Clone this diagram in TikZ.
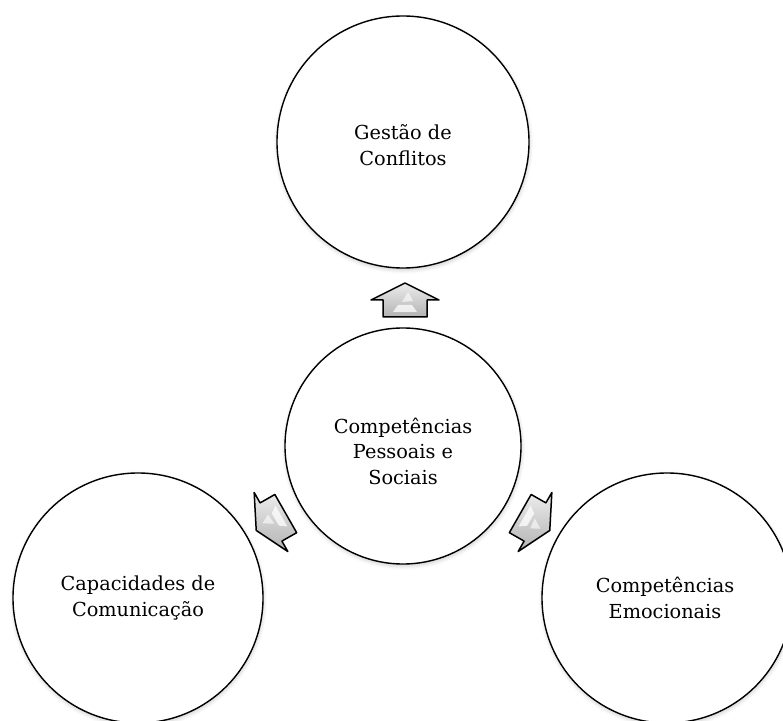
\documentclass[tikz,border=0pt]{standalone}
\usepackage{fontspec}
\setmainfont{DejaVu Serif}
\usetikzlibrary{shadows.blur}
\tikzset{
  bigcirc/.style={circle, draw=black, line width=1.4pt, fill=white, inner sep=0pt,
    blur shadow={shadow xshift=0.5pt, shadow yshift=-2pt, shadow opacity=20, shadow blur radius=4pt, shadow blur steps=6}},
  lbl/.style={align=center, font=\fontsize{19.3}{25.5}\selectfont, inner sep=0pt},
  pics/radarrow/.style={code={
    \path[draw=black, line width=1.5pt, line join=round, top color=gray!15, bottom color=gray!60]
      (0,17) -- (34,0) -- (22,0) -- (22,-17) -- (-22,-17) -- (-22,0) -- (-34,0) -- cycle;
    \fill[white, opacity=0.75] (-12,-12) -- (12,-12) -- (7,-5) -- (-7,-5) -- cycle;
    \fill[white, opacity=0.6] (-3,-2) -- (3,8) -- (8,-1) -- cycle;
  }}
}
\begin{document}
\begin{tikzpicture}[x=1pt, y=1pt]
\useasboundingbox (0,0) rectangle (783,720);
\node[bigcirc, minimum size=252pt] (top) at (403,578) {};
\node[bigcirc, minimum size=236pt] (mid) at (403,274) {};
\node[bigcirc, minimum size=250pt] (left) at (138,122) {};
\node[bigcirc, minimum size=250pt] (right) at (667,122) {};
\node[lbl] (ttop) at (403,575) {Gestão de\\Conflitos};
\node[lbl] (tmid) at (403,269) {Competências\\Pessoais e\\Sociais};
\node[lbl] (tleft) at (138,122) {Capacidades de\\Comunicação};
\node[lbl] (tright) at (665,122) {Competências\\Emocionais};
\pic at (405,420) {radarrow};
\pic[rotate=119.7] at (271,198) {radarrow};
\pic[rotate=-119.7] at (535,198) {radarrow};
\end{tikzpicture}
\end{document}
